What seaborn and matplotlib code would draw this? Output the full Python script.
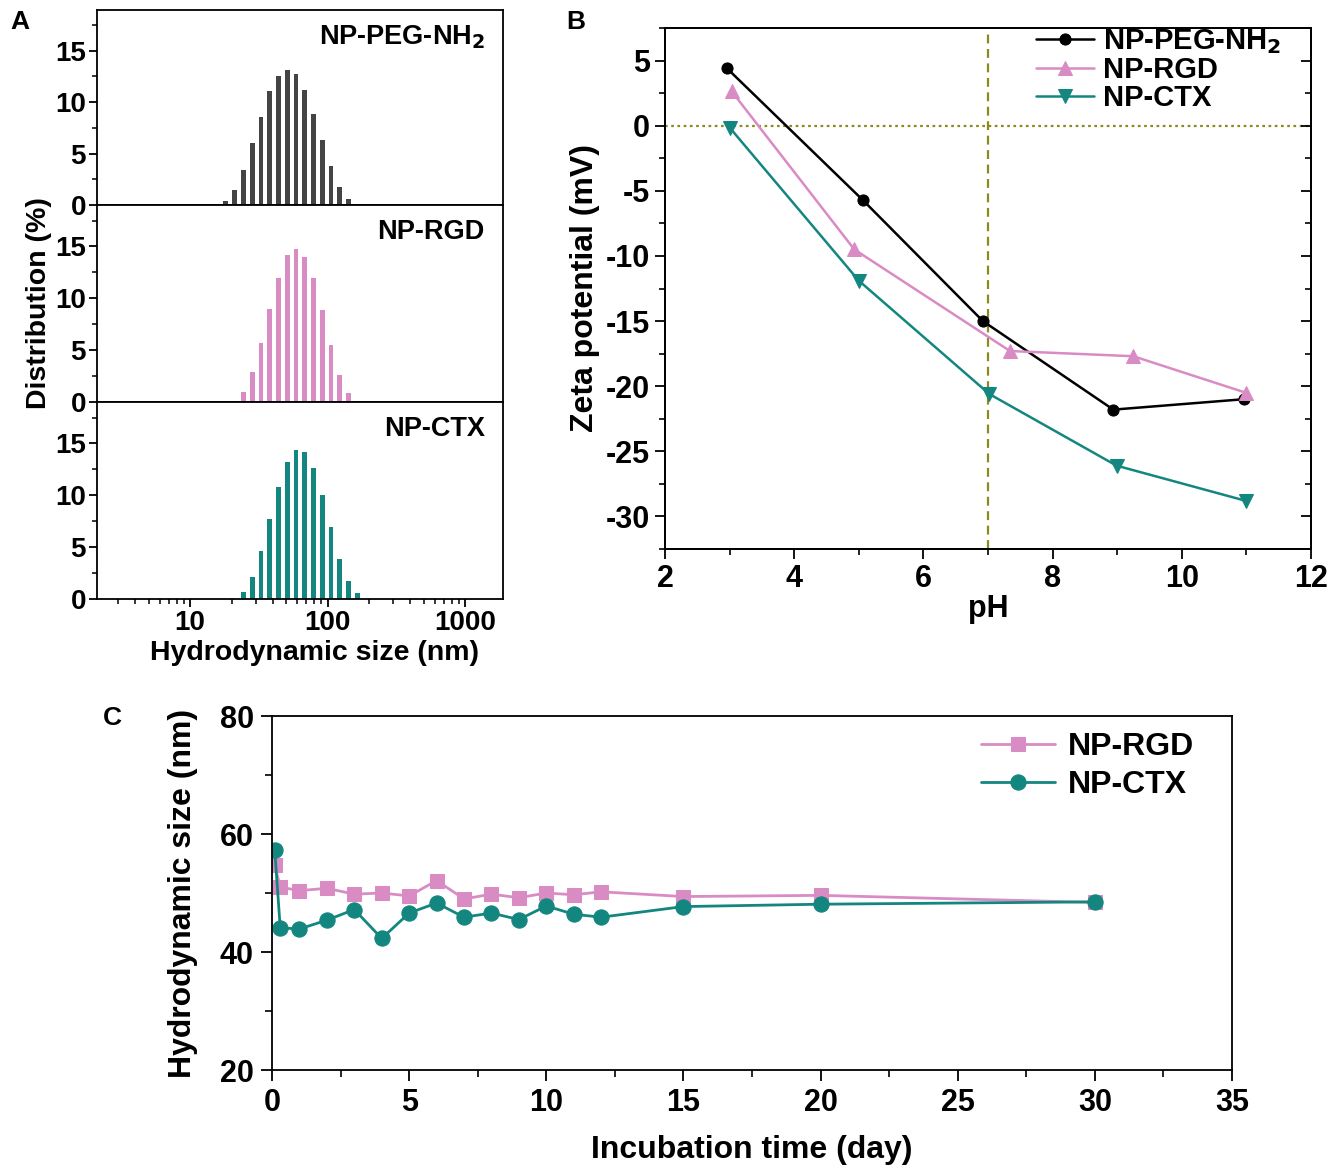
import numpy as np
import pandas as pd
import matplotlib
matplotlib.use("Agg")
import matplotlib.pyplot as plt
from matplotlib.ticker import MultipleLocator, LogLocator, NullFormatter, FixedLocator
import seaborn as sns

# ---------------- data ----------------
# Panel A: DLS size distributions (size class in nm, % intensity)
sizes_peg = [18.17, 21.04, 24.36, 28.21, 32.67, 37.84, 43.82, 50.75, 58.77, 68.06, 78.82, 91.28, 105.7, 122.4, 141.8]
dist_peg = [0.36, 1.46, 3.4, 6.0, 8.6, 11.05, 12.55, 13.1, 12.7, 11.15, 8.8, 6.3, 3.8, 1.75, 0.58]
sizes_rgd = [24.36, 28.21, 32.67, 37.84, 43.82, 50.75, 58.77, 68.06, 78.82, 91.28, 105.7, 122.4, 141.8]
dist_rgd = [0.94, 2.9, 5.65, 8.95, 11.95, 14.15, 14.8, 14.0, 11.95, 8.85, 5.5, 2.65, 0.84]
sizes_ctx = [24.36, 28.21, 32.67, 37.84, 43.82, 50.75, 58.77, 68.06, 78.82, 91.28, 105.7, 122.4, 141.8, 164.2]
dist_ctx = [0.68, 2.15, 4.65, 7.75, 10.8, 13.2, 14.4, 14.15, 12.65, 10.0, 6.9, 3.9, 1.75, 0.55]
labels_a = ["NP-PEG-NH$_2$", "NP-RGD", "NP-CTX"]

# Panel B: zeta potential vs pH
ph_peg = [2.96, 5.06, 6.92, 8.94, 10.96]
zeta_peg = [4.4, -5.7, -15.0, -21.8, -21.0]
ph_rgd = [3.03, 4.93, 7.34, 9.25, 10.99]
zeta_rgd = [2.65, -9.5, -17.3, -17.7, -20.5]
ph_ctx = [3.01, 5.0, 7.02, 8.99, 10.99]
zeta_ctx = [-0.2, -11.9, -20.6, -26.1, -28.8]

# Panel C: hydrodynamic size vs incubation time
days = [0.1, 0.3, 1, 2, 3, 4, 5, 6, 7, 8, 9, 10, 11, 12, 15, 20, 30]
size_rgd = [54.7, 51.0, 50.4, 50.8, 49.8, 50.0, 49.5, 52.1, 49.0, 49.8, 49.2, 50.0, 49.7, 50.2, 49.4, 49.6, 48.4]
size_ctx = [57.3, 44.1, 43.9, 45.4, 47.2, 42.3, 46.6, 48.3, 45.9, 46.6, 45.5, 47.8, 46.4, 45.9, 47.7, 48.1, 48.5]

# ---------------- style ----------------
sns.set_theme(style="white")
plt.rcParams["font.family"] = ["Liberation Sans", "DejaVu Sans"]
plt.rcParams["font.weight"] = "bold"
plt.rcParams["axes.labelweight"] = "bold"
plt.rcParams["axes.edgecolor"] = "black"
plt.rcParams["axes.linewidth"] = 1.3
plt.rcParams["xtick.color"] = "black"
plt.rcParams["ytick.color"] = "black"
plt.rcParams["text.color"] = "black"
plt.rcParams["axes.labelcolor"] = "black"
plt.rcParams["mathtext.default"] = "bf"
plt.rcParams["axes.unicode_minus"] = False

GRAY = "#444444"
PINK = "#D98CC4"
TEAL = "#148680"
OLIVE = "#8a8a1e"

fig = plt.figure(figsize=(13.44, 11.67), dpi=100)

W, H = 1344, 1167
def fr(x0, y0, x1, y1):
    return [x0 / W, 1 - y1 / H, (x1 - x0) / W, (y1 - y0) / H]

# ---------------- panel A ----------------
boxes = [fr(97, 9.5, 503, 205), fr(97, 205, 503, 402), fr(97, 402, 503, 599)]
series_a = [(sizes_peg, dist_peg, GRAY), (sizes_rgd, dist_rgd, PINK), (sizes_ctx, dist_ctx, TEAL)]
step = np.log10(sizes_peg[1] / sizes_peg[0])
for i, (box, (sz, dv, col), lab) in enumerate(zip(boxes, series_a, labels_a)):
    ax = fig.add_axes(box)
    df = pd.DataFrame({"size": sz, "dist": dv})
    lo = np.log10(sz[0]) - step / 2
    hi = np.log10(sz[-1]) + step / 2
    sns.histplot(data=df, x="size", weights="dist", bins=len(sz), binrange=(lo, hi),
                 log_scale=True, shrink=0.55, color=col, alpha=1.0, edgecolor="none",
                 linewidth=0, ax=ax)
    ax.set_xlim(2.1, 1890)
    ax.set_ylim(0, 19)
    ax.yaxis.set_major_locator(FixedLocator([0, 5, 10, 15]))
    ax.yaxis.set_minor_locator(MultipleLocator(2.5))
    ax.xaxis.set_major_locator(LogLocator(base=10, numticks=10))
    ax.xaxis.set_minor_locator(LogLocator(base=10, subs=np.arange(2, 10), numticks=20))
    ax.xaxis.set_minor_formatter(NullFormatter())
    ax.tick_params(axis="both", which="major", direction="out", length=6, width=1.3,
                   labelsize=20, left=True, bottom=True, pad=2)
    ax.tick_params(axis="both", which="minor", direction="out", length=3.5, width=1.1,
                   left=True, bottom=True)
    ax.set_ylabel("")
    ax.set_xlabel("")
    if i < 2:
        ax.tick_params(axis="x", which="both", labelbottom=False)
    else:
        ax.set_xticks([10, 100, 1000])
        ax.set_xticklabels(["10", "100", "1000"])
        ax.set_xlabel("Hydrodynamic size (nm)", fontsize=20.5, labelpad=0)
        ax.xaxis.set_label_coords(0.535, -0.21)
    for s in ax.spines.values():
        s.set_visible(True)
        s.set_color("black")
        s.set_linewidth(1.3)
    ax.text(0.955, 0.93, lab, transform=ax.transAxes, ha="right", va="top",
            fontsize=19.5, fontweight="bold")
    if i == 1:
        ax.set_ylabel("Distribution (%)", fontsize=20.5, labelpad=2)

fig.text(10 / W, 1 - 22 / H, "A", fontsize=19, fontweight="bold", va="center")

# ---------------- panel B ----------------
axb = fig.add_axes(fr(665, 28, 1311, 549))
axb.axhline(0, color=OLIVE, linestyle=(0, (1.2, 1.6)), linewidth=1.6, zorder=1)
axb.axvline(7, color=OLIVE, linestyle=(0, (4, 2.5)), linewidth=1.6, zorder=1)
dfb = [("NP-PEG-NH$_2$", ph_peg, zeta_peg, "black", "o", 8),
       ("NP-RGD", ph_rgd, zeta_rgd, PINK, "^", 10),
       ("NP-CTX", ph_ctx, zeta_ctx, TEAL, "v", 10)]
for lab, xs, ys, col, mk, ms in dfb:
    d = pd.DataFrame({"pH": xs, "zeta": ys})
    sns.lineplot(data=d, x="pH", y="zeta", color=col, marker=mk, markersize=ms,
                 markeredgecolor=col, linewidth=1.8, sort=False, estimator=None,
                 label=lab, ax=axb, zorder=3)
axb.set_xlim(2, 12)
axb.set_ylim(-32.5, 7.5)
axb.xaxis.set_major_locator(MultipleLocator(2))
axb.xaxis.set_minor_locator(MultipleLocator(1))
axb.yaxis.set_major_locator(MultipleLocator(5))
axb.yaxis.set_minor_locator(MultipleLocator(2.5))
axb.tick_params(axis="both", which="major", direction="out", length=7, width=1.3,
                labelsize=22, left=True, bottom=True, pad=4)
axb.tick_params(axis="both", which="minor", direction="out", length=4, width=1.2,
                left=True, bottom=True)
axb.set_xlabel("pH", fontsize=22, labelpad=0)
axb.set_ylabel("Zeta potential (mV)", fontsize=23, labelpad=4)
for s in axb.spines.values():
    s.set_visible(True)
    s.set_color("black")
    s.set_linewidth(1.3)
axr = axb.twinx()
axr.set_ylim(axb.get_ylim())
axr.yaxis.set_major_locator(MultipleLocator(5))
axr.yaxis.set_minor_locator(MultipleLocator(2.5))
axr.tick_params(axis="y", which="major", direction="in", length=7, width=1.3, labelright=False, right=True)
axr.tick_params(axis="y", which="minor", direction="in", length=4, width=1.2, right=True)
axr.grid(False)
axb.legend(loc="upper right", bbox_to_anchor=(0.985, 1.04), frameon=False, fontsize=21,
           handlelength=2.0, handletextpad=0.3, labelspacing=0.0, borderaxespad=0.3)
fig.text(566 / W, 1 - 22 / H, "B", fontsize=19, fontweight="bold", va="center")

# ---------------- panel C ----------------
axc = fig.add_axes(fr(272, 716, 1232, 1070))
for lab, ys, col, mk, ms in [("NP-RGD", size_rgd, PINK, "s", 10), ("NP-CTX", size_ctx, TEAL, "o", 11)]:
    d = pd.DataFrame({"day": days, "size": ys})
    sns.lineplot(data=d, x="day", y="size", color=col, marker=mk, markersize=ms,
                 markeredgecolor=col, linewidth=2.0, sort=False, estimator=None,
                 label=lab, ax=axc)
axc.set_xlim(0, 35)
axc.set_ylim(20, 80)
axc.xaxis.set_major_locator(MultipleLocator(5))
axc.xaxis.set_minor_locator(MultipleLocator(2.5))
axc.yaxis.set_major_locator(MultipleLocator(20))
axc.yaxis.set_minor_locator(MultipleLocator(10))
axc.tick_params(axis="both", which="major", direction="out", length=8, width=1.3,
                labelsize=22, left=True, bottom=True, pad=5)
axc.tick_params(axis="both", which="minor", direction="out", length=5, width=1.2,
                left=True, bottom=True)
axc.set_xlabel("Incubation time (day)", fontsize=23, labelpad=12)
axc.set_ylabel("Hydrodynamic size (nm)", fontsize=23, labelpad=16)
for s in axc.spines.values():
    s.set_visible(True)
    s.set_color("black")
    s.set_linewidth(1.3)
axc.legend(loc="upper right", bbox_to_anchor=(0.99, 1.035), frameon=False, fontsize=23,
           handlelength=2.3, handletextpad=0.4, labelspacing=0.25)
fig.text(103 / W, 1 - 718 / H, "C", fontsize=19, fontweight="bold", va="center")

fig.savefig("out.png", dpi=100)
